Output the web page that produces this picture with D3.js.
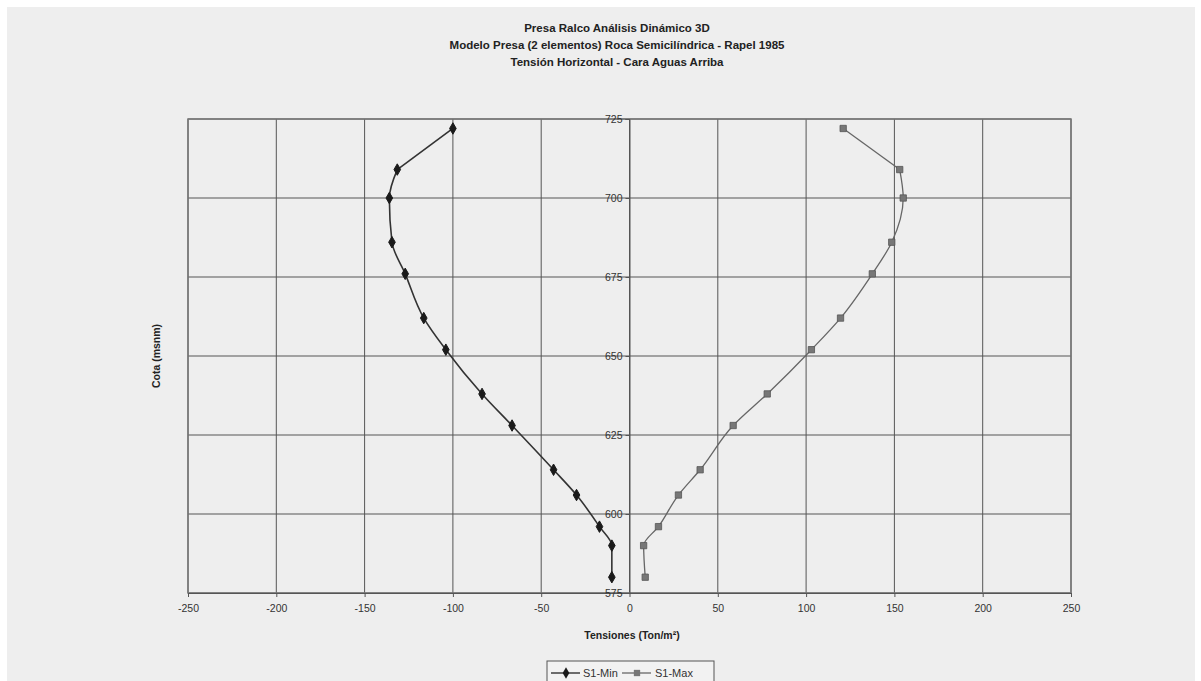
<!DOCTYPE html>
<html><head><meta charset="utf-8">
<script src="https://cdn.jsdelivr.net/npm/d3@7/dist/d3.min.js"></script>
<style>
html,body{margin:0;padding:0;background:#fff;}
svg{display:block;}
text{font-family:"Liberation Sans",Arial,sans-serif;}
</style></head>
<body>
<script>
const cota = [722, 709, 700, 686, 676, 662, 652, 638, 628, 614, 606, 596, 590, 580];
const s1Min = [-100, -131.5, -136, -134.5, -127, -116.5, -104, -83.5, -66.5, -43, -30, -17, -10, -10];
const s1Max = [121, 153, 155, 148.5, 137.5, 119.5, 103, 78, 58.7, 40, 27.7, 16.4, 8, 8.9];
const xTicks = [-250, -200, -150, -100, -50, 0, 50, 100, 150, 200, 250];
const yTicks = [575, 600, 625, 650, 675, 700, 725];
const titles = ["Presa Ralco Análisis Dinámico 3D",
  "Modelo Presa (2 elementos) Roca Semicilíndrica - Rapel 1985",
  "Tensión Horizontal - Cara Aguas Arriba"];
const seriesNames = ["S1-Min", "S1-Max"];

const W = 1201, H = 681;
const svg = d3.select("body").append("svg").attr("width", W).attr("height", H);
svg.append("rect").attr("x", 7).attr("y", 7).attr("width", 1188).attr("height", H - 7).attr("fill", "#eeeeee");

const x = d3.scaleLinear().domain([-250, 250]).range([188, 1071]);
const y = d3.scaleLinear().domain([575, 725]).range([593, 119]);

// grid
const g = svg.append("g");
g.selectAll(".vg").data(xTicks).join("line")
  .attr("x1", d => x(d)).attr("x2", d => x(d)).attr("y1", y(725)).attr("y2", y(575))
  .attr("stroke", "#555").attr("stroke-width", 1);
g.selectAll(".hg").data(yTicks).join("line")
  .attr("x1", x(-250)).attr("x2", x(250)).attr("y1", d => y(d)).attr("y2", d => y(d))
  .attr("stroke", "#555").attr("stroke-width", 1);
svg.append("rect").attr("x", x(-250)).attr("y", y(725)).attr("width", x(250) - x(-250)).attr("height", y(575) - y(725))
  .attr("fill", "none").attr("stroke", "#777").attr("stroke-width", 1.5);

// x axis at bottom
const xAxis = d3.axisBottom(x).tickValues(xTicks).tickFormat(d => String(d)).tickSize(4).tickPadding(8);
const xa = svg.append("g").attr("transform", `translate(0,${y(575)})`).call(xAxis);
xa.select(".domain").attr("stroke", "#555");
xa.selectAll(".tick line").attr("stroke", "#555");
xa.selectAll(".tick text").attr("font-size", 10.5).attr("fill", "#333").attr("font-family", "Liberation Sans, Arial");

// y axis at x=0
const yAxis = d3.axisLeft(y).tickValues(yTicks).tickFormat(d => String(d)).tickSize(4).tickPadding(3);
const ya = svg.append("g").attr("transform", `translate(${x(0)},0)`).call(yAxis);
ya.select(".domain").attr("stroke", "#555");
ya.selectAll(".tick line").attr("stroke", "#555");
ya.selectAll(".tick text").attr("font-size", 10.5).attr("fill", "#333").attr("font-family", "Liberation Sans, Arial");

// titles
svg.selectAll(".title").data(titles).join("text")
  .attr("x", 617).attr("y", (d, i) => 32 + i * 17).attr("text-anchor", "middle")
  .attr("font-size", 11.5).attr("font-weight", "bold").attr("fill", "#222").text(d => d);

svg.append("text").attr("x", 632).attr("y", 639).attr("text-anchor", "middle")
  .attr("font-size", 10.5).attr("font-weight", "bold").attr("fill", "#222").text("Tensiones (Ton/m²)");
svg.append("text").attr("transform", `translate(160,356) rotate(-90)`).attr("text-anchor", "middle")
  .attr("font-size", 10.5).attr("font-weight", "bold").attr("fill", "#222").text("Cota (msnm)");

// series: straight top segment, smoothed (monotone along elevation) below
const smooth = d3.line().curve(d3.curveMonotoneY);
const straight = d3.line();
const minPts = cota.map((c, i) => [x(s1Min[i]), y(c)]);
const maxPts = cota.map((c, i) => [x(s1Max[i]), y(c)]);
function drawSeries(pts, color, w) {
  svg.append("path").attr("d", straight(pts.slice(0, 2))).attr("fill", "none").attr("stroke", color).attr("stroke-width", w);
  svg.append("path").attr("d", smooth(pts.slice(1).reverse())).attr("fill", "none").attr("stroke", color).attr("stroke-width", w);
}
drawSeries(minPts, "#333", 1.6);
drawSeries(maxPts, "#666", 1.3);

const diamond = d3.symbol().type(d3.symbolDiamond).size(38);
const square = d3.symbol().type(d3.symbolSquare).size(40);
svg.selectAll(".mn").data(minPts).join("path").attr("d", diamond)
  .attr("transform", d => `translate(${d[0]},${d[1]})`).attr("fill", "#1a1a1a").attr("stroke", "#1a1a1a").attr("stroke-width", 1);
svg.selectAll(".mx").data(maxPts).join("path").attr("d", square)
  .attr("transform", d => `translate(${d[0]},${d[1]})`).attr("fill", "#777").attr("stroke", "#555").attr("stroke-width", 0.8);

// legend
const lg = svg.append("g");
lg.append("rect").attr("x", 547).attr("y", 661).attr("width", 167).attr("height", 26)
  .attr("fill", "#f2f2f2").attr("stroke", "#555").attr("stroke-width", 1);
lg.append("line").attr("x1", 551).attr("x2", 580).attr("y1", 673).attr("y2", 673).attr("stroke", "#333").attr("stroke-width", 1.4);
lg.append("path").attr("d", diamond).attr("transform", "translate(566,673)").attr("fill", "#1a1a1a");
lg.append("text").attr("x", 583).attr("y", 677).attr("font-size", 11).attr("fill", "#333").text(seriesNames[0]);
lg.append("line").attr("x1", 622).attr("x2", 651).attr("y1", 673).attr("y2", 673).attr("stroke", "#666").attr("stroke-width", 1.3);
lg.append("path").attr("d", square).attr("transform", "translate(637,673)").attr("fill", "#777");
lg.append("text").attr("x", 655).attr("y", 677).attr("font-size", 11).attr("fill", "#333").text(seriesNames[1]);
</script>
</body></html>
